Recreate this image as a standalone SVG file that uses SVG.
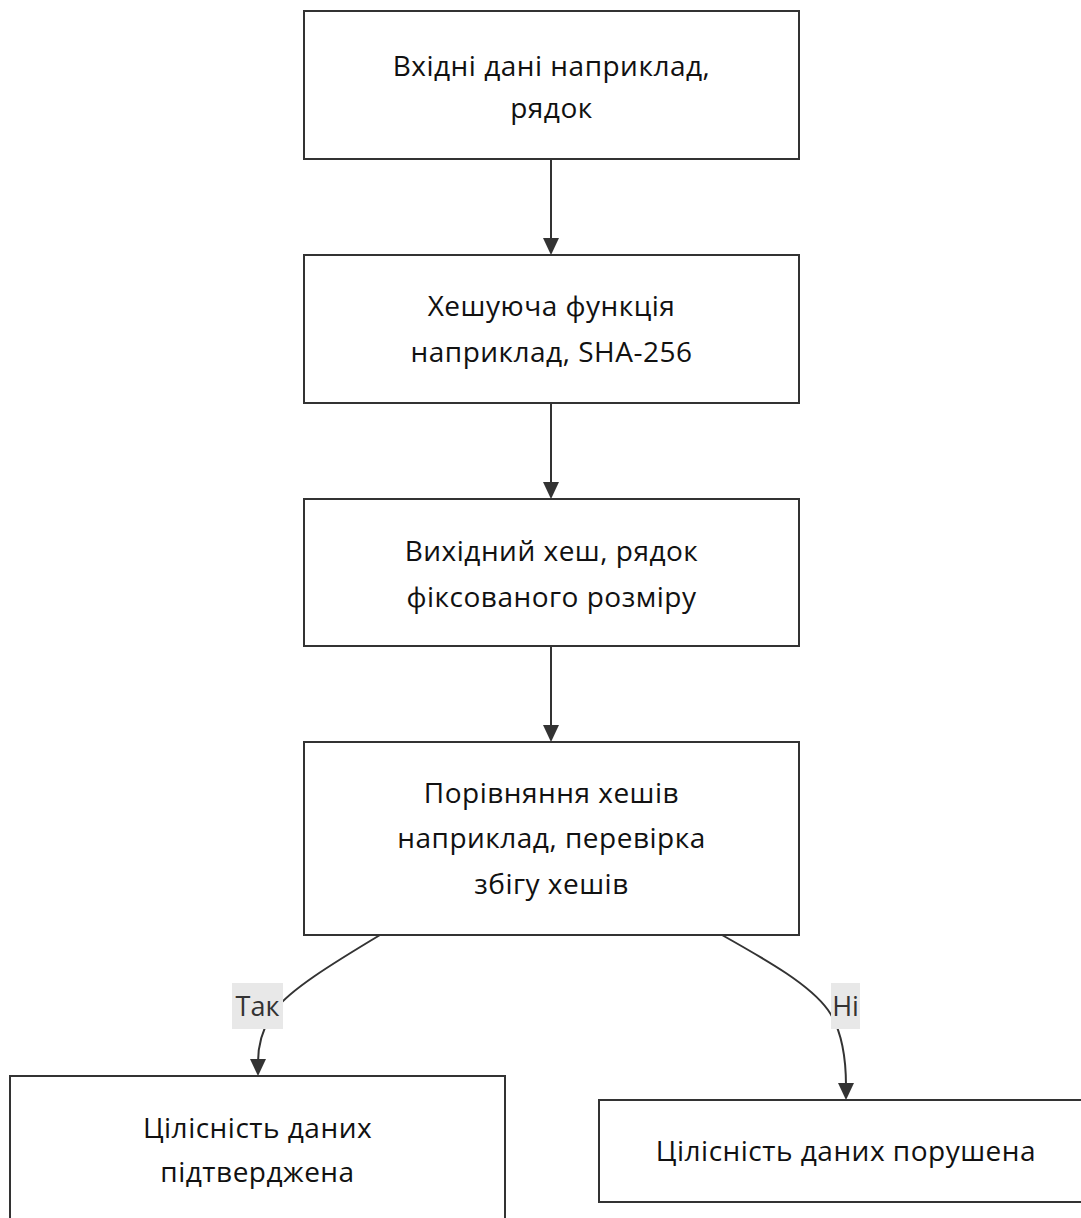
<svg xmlns="http://www.w3.org/2000/svg" width="1081" height="1218" viewBox="0 0 1081 1218">
<defs>
<style>
.box{fill:#fff;stroke:#333;stroke-width:2}
.t{font-family:"Open Sans","DejaVu Sans",sans-serif;font-size:28px;letter-spacing:0.5px;fill:#111;text-anchor:middle}
.edge{fill:none;stroke:#333;stroke-width:2}
.lbg{fill:#e8e8e8}
.lt{font-family:"Open Sans","DejaVu Sans",sans-serif;font-size:27px;fill:#333;text-anchor:middle}
</style>
</defs>
<rect width="1081" height="1218" fill="#fff"/>
<g id="connectors">
<path class="edge" d="M551,159 L551,240"/>
<path class="edge" d="M551,403 L551,484"/>
<path class="edge" d="M551,646 L551,727"/>
<path class="edge" d="M380,935 C330,965 290,990 275,1010 C262,1028 258,1045 258,1062"/>
<path class="edge" d="M722,935 C770,962 810,985 828,1010 C842,1030 846,1060 846,1086"/>
<g fill="#333">
<path d="M543,238 L559,238 L551,255 z"/>
<path d="M543,482 L559,482 L551,499 z"/>
<path d="M543,725 L559,725 L551,742 z"/>
<path d="M250,1059 L266,1059 L258,1076 z"/>
<path d="M838,1083 L854,1083 L846,1100 z"/>
</g>
<g id="label-tak">
<rect class="lbg" x="232" y="983" width="51" height="46"/>
<text class="lt" x="257.5" y="1016">Так</text>
</g>
<g id="label-ni">
<rect class="lbg" x="831" y="983" width="29" height="46"/>
<text class="lt" x="845.5" y="1016">Ні</text>
</g>
</g>
<g id="n1">
<rect class="box" x="304" y="11" width="495" height="148"/>
<text class="t" x="551.5" y="76">Вхідні дані наприклад,</text>
<text class="t" x="551.5" y="118">рядок</text>
</g>
<g id="n2">
<rect class="box" x="304" y="255" width="495" height="148"/>
<text class="t" x="551.5" y="316">Хешуюча функція</text>
<text class="t" x="551.5" y="362">наприклад, SHA-256</text>
</g>
<g id="n3">
<rect class="box" x="304" y="499" width="495" height="147"/>
<text class="t" x="551.5" y="561">Вихідний хеш, рядок</text>
<text class="t" x="551.5" y="607">фіксованого розміру</text>
</g>
<g id="n4">
<rect class="box" x="304" y="742" width="495" height="193"/>
<text class="t" x="551.5" y="803">Порівняння хешів</text>
<text class="t" x="551.5" y="848">наприклад, перевірка</text>
<text class="t" x="551.5" y="894">збігу хешів</text>
</g>
<g id="n5">
<rect class="box" x="10" y="1076" width="495" height="160"/>
<text class="t" x="257.5" y="1138">Цілісність даних</text>
<text class="t" x="257.5" y="1182">підтверджена</text>
</g>
<g id="n6">
<rect class="box" x="599" y="1100" width="495" height="102"/>
<text class="t" x="846" y="1161">Цілісність даних порушена</text>
</g>
</svg>
